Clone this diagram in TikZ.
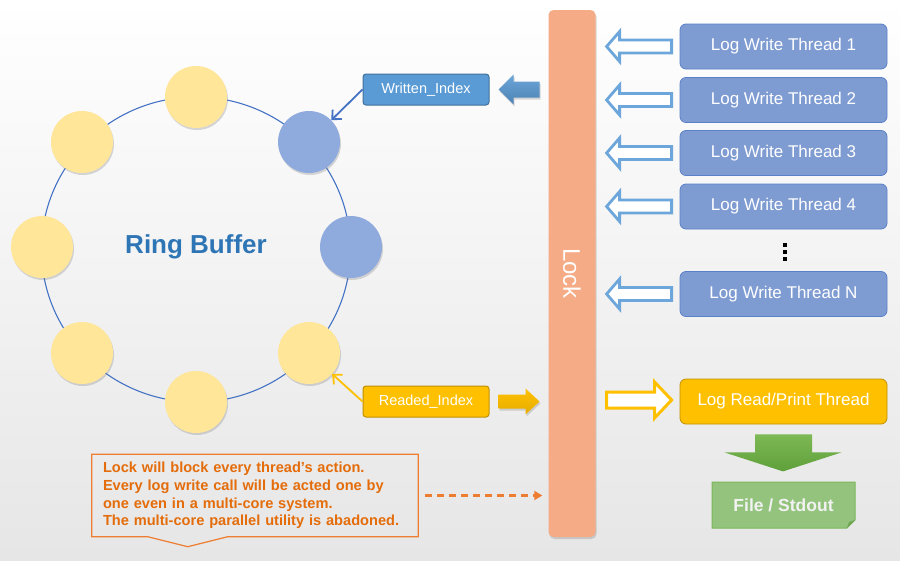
\documentclass[tikz,border=0pt]{standalone}
\usepackage{fontspec}
\setmainfont{Liberation Sans}
\usetikzlibrary{shadows,arrows.meta,calc}
\definecolor{ringblue}{HTML}{4472C4}
\definecolor{cyellow}{HTML}{FFE699}
\definecolor{cblue}{HTML}{8FAADC}
\definecolor{idxblue}{HTML}{5B9BD5}
\definecolor{idxblueb}{HTML}{41719C}
\definecolor{lockc}{HTML}{F5AB85}
\definecolor{thrfill}{HTML}{7F9CD2}
\definecolor{thrdraw}{HTML}{5A80C8}
\definecolor{hollowb}{HTML}{6CA6DA}
\definecolor{gold}{HTML}{FFC000}
\definecolor{goldb}{HTML}{C09000}
\definecolor{grtop}{HTML}{7DB955}
\definecolor{grbot}{HTML}{5FA03A}
\definecolor{filefill}{HTML}{93C37D}
\definecolor{filedraw}{HTML}{7CB65A}
\definecolor{filefold}{HTML}{6FA552}
\definecolor{noteor}{HTML}{ED7D31}
\definecolor{notetext}{HTML}{E46C0A}
\definecolor{ringtext}{HTML}{2E75B6}
\definecolor{bggray}{HTML}{E6E6E6}
\begin{document}
\begin{tikzpicture}[x=1pt,y=-1pt,
  slot/.style={circle,minimum size=62pt,inner sep=0pt,
    drop shadow={shadow xshift=1pt,shadow yshift=-2pt,opacity=.3}},
  yslot/.style={slot,fill=cyellow},
  bslot/.style={slot,fill=cblue},
  idxbox/.style={rectangle,rounded corners=3pt,minimum width=126pt,minimum height=31pt,
    inner sep=0pt,text=white,font=\fontsize{14.5}{16}\selectfont,line width=1pt},
  wthread/.style={rectangle,rounded corners=6pt,minimum width=207pt,minimum height=45pt,
    inner sep=0pt,fill=thrfill,draw=thrdraw,line width=.8pt,text=white,
    font=\fontsize{17}{19}\selectfont},
  hollowarrow/.style={draw=hollowb,fill=white,line width=2.8pt,line join=miter},
  pointer/.style={line width=1.8pt,-{Straight Barb[length=7pt,width=13pt]}},
]
\useasboundingbox (0,0) rectangle (900,560);
\shade[top color=white,bottom color=bggray] (0,0) rectangle (900,560);

% ring
\draw[ringblue,line width=1.1pt] (196,249.5) ellipse [x radius=154.5,y radius=152.5];
\node[yslot] (c1) at (196,97) {};
\node[bslot] (c2) at (309,142) {};
\node[bslot] (c3) at (351,247) {};
\node[yslot] (c4) at (309,353) {};
\node[yslot] (c5) at (196,402) {};
\node[yslot] (c6) at (82,353) {};
\node[yslot] (c7) at (42,247) {};
\node[yslot] (c8) at (82,142) {};
\node[text=ringtext,font=\fontsize{26}{28}\selectfont\bfseries] (rb) at (196,247) {Ring Buffer};

% index boxes
\node[idxbox,fill=idxblue,draw=idxblueb] (wi) at (426,89.5) {Written\_Index};
\node[idxbox,fill=gold,draw=goldb] (ri) at (426,401.5) {Readed\_Index};
\draw[pointer,ringblue] (wi.west) -- (c2);
\draw[pointer,gold] (ri.west) -- (c4);

% block arrows next to lock
\path[top color=idxblue!90!white,bottom color=idxblue!85!black,
  drop shadow={shadow xshift=1pt,shadow yshift=-2pt,opacity=.3}]
  ($(wi.east)+(9,0)$) -- ++(15,-15) -- ++(0,7) -- ++(26,0) -- ++(0,16)
  -- ++(-26,0) -- ++(0,7) -- cycle;
\path[top color=gold,bottom color=gold!90!black,
  drop shadow={shadow xshift=1pt,shadow yshift=-2pt,opacity=.3}]
  ($(ri.east)+(9,-7)$) -- ++(27,0) -- ++(0,-6) -- ++(14,13) -- ++(-14,13)
  -- ++(0,-6) -- ++(-27,0) -- cycle;

% lock bar
\node[rectangle,rounded corners=5pt,fill=lockc,minimum width=47pt,minimum height=527pt,
  inner sep=0pt,drop shadow={shadow xshift=1pt,shadow yshift=-2pt,opacity=.3}]
  (lock) at (572,273.5) {};
\node[rotate=-90,text=white,font=\fontsize{24}{26}\selectfont] (lockt) at (lock.center) {Lock};

% writer threads
\node[wthread] (t1) at (783.5,46.5) {Log Write Thread 1};
\node[wthread] (t2) at (783.5,100) {Log Write Thread 2};
\node[wthread] (t3) at (783.5,153) {Log Write Thread 3};
\node[wthread] (t4) at (783.5,206.5) {Log Write Thread 4};
\node[wthread] (tN) at (783.5,294) {Log Write Thread N};
\foreach \n in {t1,t2,t3,t4,tN}{
  \draw[hollowarrow] ($(\n.west)+(-73,0)$) -- ++(13,-15) -- ++(0,8.5) -- ++(52,0)
    -- ++(0,13) -- ++(-52,0) -- ++(0,8.5) -- cycle;
}
\foreach \yy in {245,252,259}{
  \fill[black] (783.3,\yy-1.8) rectangle ++(3.6,3.6);
}

% reader thread
\node[wthread,fill=gold,draw=goldb] (rd) at (783.5,401.5) {Log Read/Print Thread};
\draw[draw=gold,fill=white,line width=3pt,line join=miter]
  ($(rd.west)+(-73,-9.5)$) -- ++(48,0) -- ++(0,-10) -- ++(17,18) -- ++(-17,18)
  -- ++(0,-10) -- ++(-48,0) -- cycle;

% green arrow and output
\path[top color=grtop,bottom color=grbot]
  ($(rd.south)+(-28.5,10)$) -- ++(57,0) -- ++(0,18) -- ++(29.5,0) -- ++(-58.5,19)
  -- ++(-58.5,-19) -- ++(30.5,0) -- cycle;
\coordinate (fsnw) at (712,482);
\coordinate (fsse) at (855,528);
\fill[filefill] (fsnw) -- (fsnw -| fsse) -- ($(fsse)+(0,-8)$)
  -- ($(fsse)+(-8,0)$) -- (fsse -| fsnw) -- cycle;
\draw[filedraw,line width=1pt] (fsnw) -- (fsnw -| fsse) -- ($(fsse)+(0,-8)$)
  -- ($(fsse)+(-8,0)$) -- (fsse -| fsnw) -- cycle;
\fill[filefold] ($(fsse)+(0,-8)$) -- ($(fsse)+(-8,0)$)
  -- ($(fsse)+(-6,-6)$) -- cycle;
\node[inner sep=0pt,text=white!95!black,font=\fontsize{17.5}{19}\selectfont\bfseries]
  (fs) at ($(fsnw)!.5!(fsse)$) {File / Stdout};

% note callout
\node[minimum height=82pt,text width=304pt,inner xsep=11pt,inner ysep=0pt,align=left,
  text=notetext,font=\fontsize{14.6}{17.6}\selectfont\bfseries] (note) at (255,495.5)
  {Lock will block every thread's action.\\
   Every log write call will be acted one by\\
   one even in a multi-core system.\\
   The multi-core parallel utility is abadoned.};
\draw[noteor,line width=1.2pt] (note.north west) -- (note.north east) -- (note.south east)
  -- ($(note.south west)+(136,0)$) -- ($(note.south west)+(96,10)$)
  -- ($(note.south west)+(56,0)$) -- (note.south west) -- cycle;
\draw[noteor,line width=2.6pt,dash pattern=on 7pt off 5pt,
  -{Triangle[length=8pt,width=9pt]},shorten <=7pt,shorten >=6pt]
  (note.east) -- (note.east -| lock.west);
\end{tikzpicture}
\end{document}
